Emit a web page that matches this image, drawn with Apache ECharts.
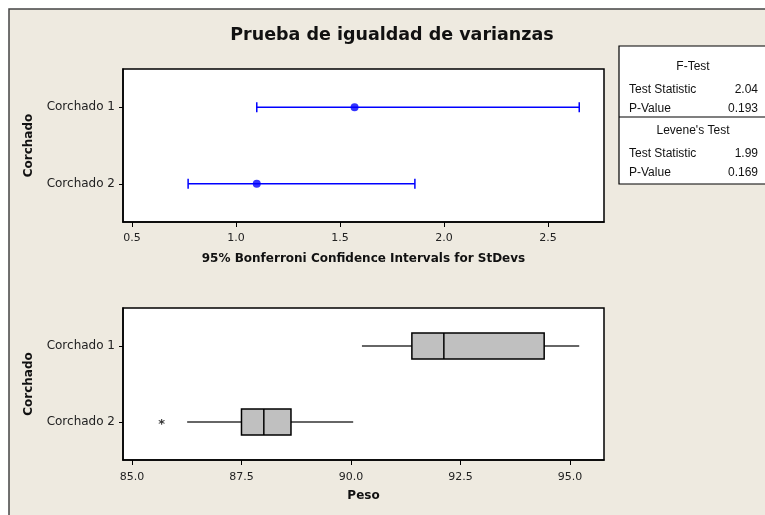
<!DOCTYPE html>
<html>
<head>
<meta charset="utf-8">
<script src="https://cdn.jsdelivr.net/npm/echarts@6/dist/echarts.min.js"></script>
<style>
  html, body { margin: 0; padding: 0; background: #ffffff; }
  #chart { width: 765px; height: 515px; }
</style>
</head>
<body>
<div id="chart"></div>
<script>
// Groups compared
const categories = ['Corchado 1', 'Corchado 2'];

// 95% Bonferroni confidence intervals for the standard deviations
const sdLower = [1.10, 0.77];
const sdEstimate = [1.57, 1.10];
const sdUpper = [2.65, 1.86];
const sdTicks = [0.5, 1.0, 1.5, 2.0, 2.5];

// Box plot summaries of Peso
const pesoMin = [90.25, 86.26];
const pesoQ1 = [91.39, 87.50];
const pesoMedian = [92.12, 88.01];
const pesoQ3 = [94.41, 88.63];
const pesoMax = [95.21, 90.05];
const pesoOutlierValues = [85.68];
const pesoOutlierGroups = ['Corchado 2'];
const pesoTicks = [85.0, 87.5, 90.0, 92.5, 95.0];

// Test results
const testNames = ['F-Test', "Levene's Test"];
const testStatistics = ['2.04', '1.99'];
const testPValues = ['0.193', '0.169'];

const BG = '#EEEAE0';
const LABEL_FONT = '"DejaVu Sans", sans-serif';
const TABLE_FONT = '"Liberation Sans", Arial, sans-serif';

const chart = echarts.init(document.getElementById('chart'), null, { renderer: 'canvas' });

const intervalData = categories.map((c, i) => [i, sdLower[i], sdEstimate[i], sdUpper[i]]);
const estimateData = categories.map((c, i) => [sdEstimate[i], i]);
const boxData = categories.map((c, i) => [i, pesoMin[i], pesoQ1[i], pesoMedian[i], pesoQ3[i], pesoMax[i]]);
const outlierData = pesoOutlierValues.map((v, i) => [v, categories.indexOf(pesoOutlierGroups[i])]);

function valueAxis(gridIndex, min, max, ticks, name, nameGap, labelMargin) {
  return {
    type: 'value', gridIndex, min, max,
    name, nameLocation: 'middle', nameGap,
    nameTextStyle: { fontFamily: LABEL_FONT, fontWeight: 'bold', fontSize: 12, color: '#111' },
    axisLine: { show: true, onZero: false, lineStyle: { color: '#000', width: 1.5 } },
    axisTick: { show: true, length: 5, customValues: ticks, lineStyle: { color: '#000', width: 1 } },
    axisLabel: {
      customValues: ticks, margin: labelMargin,
      fontFamily: LABEL_FONT, fontSize: 11, color: '#222',
      formatter: v => Number(v).toFixed(1)
    },
    splitLine: { show: false }
  };
}

function categoryAxis(gridIndex) {
  return {
    type: 'category', gridIndex, data: categories, inverse: true,
    name: 'Corchado', nameLocation: 'middle', nameGap: 88, nameRotate: 90,
    nameTextStyle: { fontFamily: LABEL_FONT, fontWeight: 'bold', fontSize: 12, color: '#111' },
    axisLine: { show: true, lineStyle: { color: '#000', width: 1.5 } },
    axisTick: { show: true, length: 4, alignWithLabel: true, lineStyle: { color: '#000' } },
    axisLabel: { margin: 8, fontFamily: LABEL_FONT, fontSize: 12, color: '#222' },
    splitLine: { show: false }
  };
}

const statsTable = [];
// table frame and divider
statsTable.push({ type: 'rect', shape: { x: 619, y: 46, width: 160, height: 138 },
  style: { fill: '#ffffff', stroke: '#000', lineWidth: 1.2 }, z: 5 });
statsTable.push({ type: 'line', shape: { x1: 619, y1: 117, x2: 765, y2: 117 },
  style: { stroke: '#000', lineWidth: 1.2 }, z: 6 });
const blockTops = [67, 131];
testNames.forEach((name, i) => {
  const y0 = blockTops[i];
  statsTable.push({ type: 'text', x: 693, y: y0, z: 7,
    style: { text: name, fontFamily: TABLE_FONT, fontSize: 12, fill: '#111', align: 'center', verticalAlign: 'middle' } });
  statsTable.push({ type: 'text', x: 629, y: y0 + 23, z: 7,
    style: { text: 'Test Statistic', fontFamily: TABLE_FONT, fontSize: 12, fill: '#111', align: 'left', verticalAlign: 'middle' } });
  statsTable.push({ type: 'text', x: 758, y: y0 + 23, z: 7,
    style: { text: testStatistics[i], fontFamily: TABLE_FONT, fontSize: 12, fill: '#111', align: 'right', verticalAlign: 'middle' } });
  statsTable.push({ type: 'text', x: 629, y: y0 + 42, z: 7,
    style: { text: 'P-Value', fontFamily: TABLE_FONT, fontSize: 12, fill: '#111', align: 'left', verticalAlign: 'middle' } });
  statsTable.push({ type: 'text', x: 758, y: y0 + 42, z: 7,
    style: { text: testPValues[i], fontFamily: TABLE_FONT, fontSize: 12, fill: '#111', align: 'right', verticalAlign: 'middle' } });
});

const option = {
  backgroundColor: '#ffffff',
  animation: false,
  graphic: {
    elements: [
      { type: 'rect', shape: { x: 9, y: 9, width: 800, height: 560 },
        style: { fill: BG, stroke: '#444', lineWidth: 1.5 }, z: -10 },
      { type: 'text', x: 392, y: 35, z: 5,
        style: { text: 'Prueba de igualdad de varianzas', fontFamily: LABEL_FONT, fontWeight: 'bold',
          fontSize: 17.5, fill: '#111', align: 'center', verticalAlign: 'middle' } }
    ].concat(statsTable)
  },
  grid: [
    { left: 123, top: 69, width: 481, height: 153, show: true, backgroundColor: '#ffffff',
      borderColor: '#000', borderWidth: 1.5, containLabel: false },
    { left: 123, top: 308, width: 481, height: 152, show: true, backgroundColor: '#ffffff',
      borderColor: '#000', borderWidth: 1.5, containLabel: false }
  ],
  xAxis: [
    valueAxis(0, 0.457, 2.769, sdTicks, '95% Bonferroni Confidence Intervals for StDevs', 31, 11),
    valueAxis(1, 84.795, 95.776, pesoTicks, 'Peso', 30, 12)
  ],
  yAxis: [categoryAxis(0), categoryAxis(1)],
  series: [
    {
      type: 'custom', xAxisIndex: 0, yAxisIndex: 0,
      data: intervalData,
      encode: { x: [1, 2, 3], y: 0 },
      renderItem: function (params, api) {
        const cat = api.value(0);
        const a = api.coord([api.value(1), cat]);
        const b = api.coord([api.value(3), cat]);
        const h = 5;
        const st = { stroke: '#0000FF', lineWidth: 1.5 };
        return {
          type: 'group',
          children: [
            { type: 'line', shape: { x1: a[0], y1: a[1], x2: b[0], y2: b[1] }, style: st },
            { type: 'line', shape: { x1: a[0], y1: a[1] - h, x2: a[0], y2: a[1] + h }, style: st },
            { type: 'line', shape: { x1: b[0], y1: b[1] - h, x2: b[0], y2: b[1] + h }, style: st }
          ]
        };
      }
    },
    {
      type: 'scatter', xAxisIndex: 0, yAxisIndex: 0,
      data: estimateData, symbol: 'circle', symbolSize: 8,
      itemStyle: { color: '#0000FF' }
    },
    {
      type: 'custom', xAxisIndex: 1, yAxisIndex: 1,
      data: boxData,
      encode: { x: [1, 2, 3, 4, 5], y: 0 },
      renderItem: function (params, api) {
        const cat = api.value(0);
        const pMin = api.coord([api.value(1), cat]);
        const pQ1 = api.coord([api.value(2), cat]);
        const pMed = api.coord([api.value(3), cat]);
        const pQ3 = api.coord([api.value(4), cat]);
        const pMax = api.coord([api.value(5), cat]);
        const hh = 13;
        const y = pMed[1];
        const whisker = { stroke: '#333', lineWidth: 1.5 };
        return {
          type: 'group',
          children: [
            { type: 'line', shape: { x1: pMin[0], y1: y, x2: pQ1[0], y2: y }, style: whisker },
            { type: 'line', shape: { x1: pQ3[0], y1: y, x2: pMax[0], y2: y }, style: whisker },
            { type: 'rect', shape: { x: pQ1[0], y: y - hh, width: pQ3[0] - pQ1[0], height: 2 * hh },
              style: { fill: '#C0C0C0', stroke: '#000', lineWidth: 1.5 } },
            { type: 'line', shape: { x1: pMed[0], y1: y - hh, x2: pMed[0], y2: y + hh },
              style: { stroke: '#000', lineWidth: 1.5 } }
          ]
        };
      }
    },
    {
      type: 'scatter', xAxisIndex: 1, yAxisIndex: 1,
      data: outlierData, symbolSize: 1,
      itemStyle: { color: 'rgba(0,0,0,0)' },
      label: { show: true, position: 'inside', formatter: '*', fontFamily: LABEL_FONT,
        fontWeight: 'bold', fontSize: 13, color: '#000', offset: [0, 3] }
    }
  ]
};

chart.setOption(option);
</script>
</body>
</html>
